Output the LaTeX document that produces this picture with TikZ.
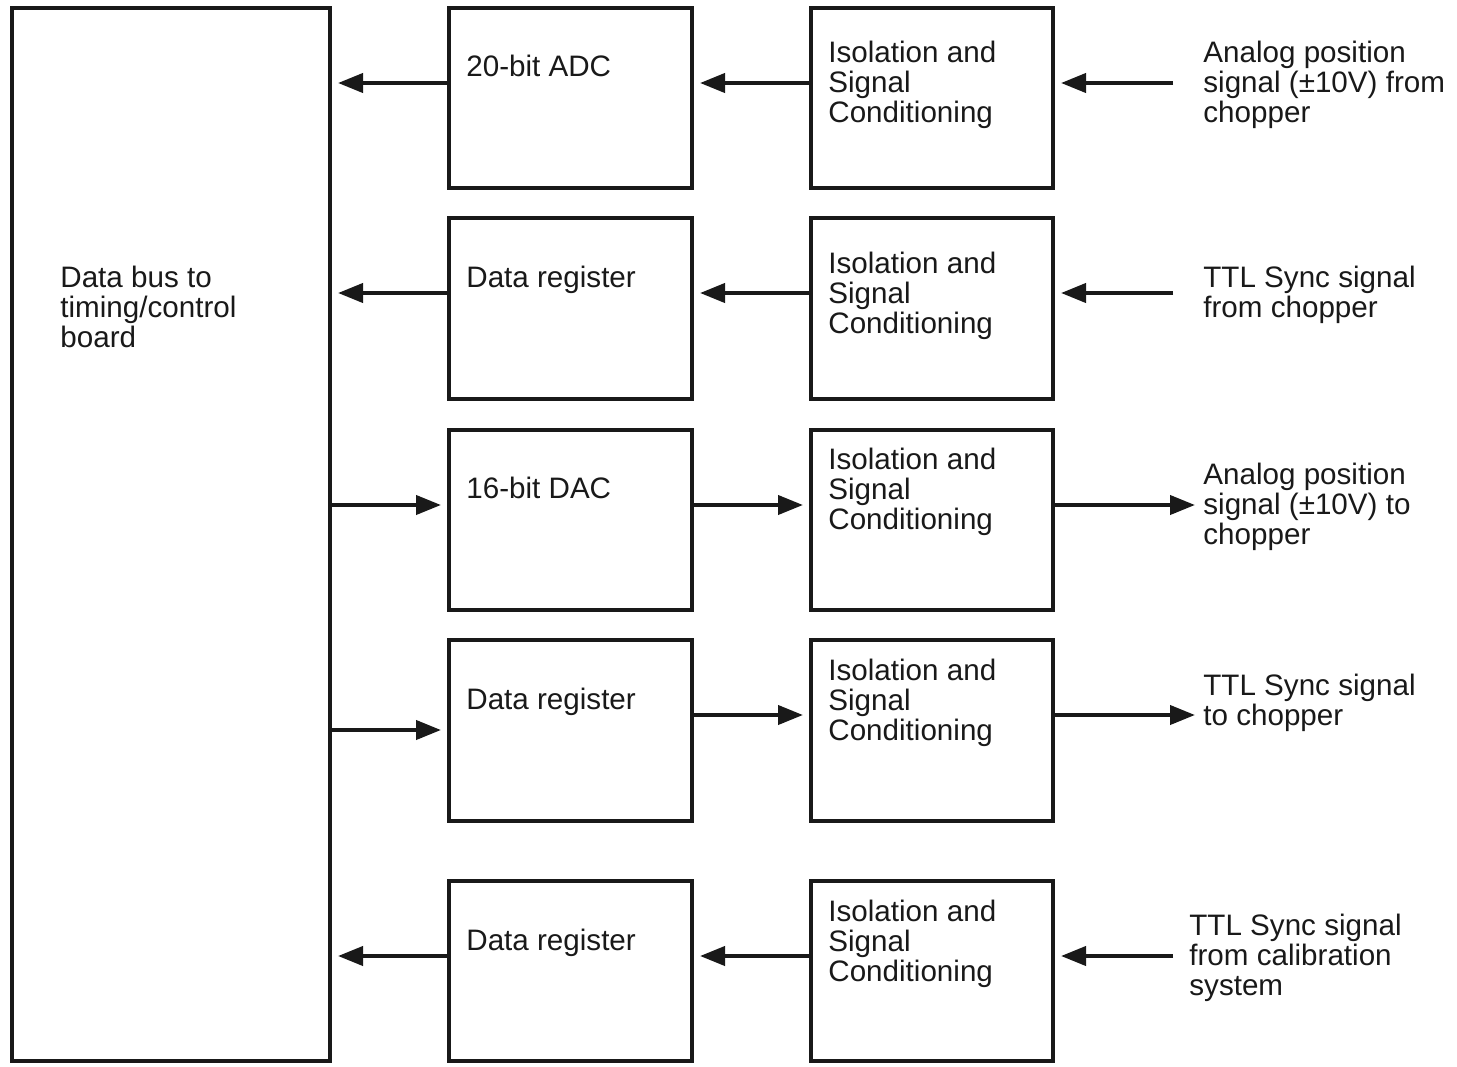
\documentclass[tikz,border=0pt]{standalone}
\usepackage{fontspec}
\setmainfont{Liberation Sans}
\usetikzlibrary{arrows.meta}
\newcommand{\ml}[1]{\begin{tabular}[t]{@{}l@{}}#1\end{tabular}}
\begin{document}
\begin{tikzpicture}[x=0.5pt,y=-0.5pt,
  blk/.style={draw=black!90, line width=2pt, inner sep=0pt, fill=white},
  colB/.style={blk, minimum width=121.5pt},
  colC/.style={blk, minimum width=121pt},
  txt/.style={anchor=base west, inner sep=0pt, font=\fontsize{14.8}{15}\selectfont, text=black!90},
  arr/.style={line width=2pt, draw=black!90, -{Triangle[length=12.5pt,width=9.5pt]}},
  gap/.style={shorten >=3pt}]
\useasboundingbox (0,0) rectangle (1457,1066);

% data bus board
\node[blk, minimum width=159pt, minimum height=526.5pt] (bus) at (171,534.5) {};
\node[txt] (bust) at (60,287) {\ml{Data bus to\\timing/control\\board}};

% converter / register column
\node[colB, minimum height=90pt]   (b1) at (570.5,98) {};
\node[colB, minimum height=90.5pt] (b2) at (570.5,308.5) {};
\node[colB, minimum height=90pt]   (b3) at (570.5,520) {};
\node[colB, minimum height=90.5pt] (b4) at (570.5,730.5) {};
\node[colB, minimum height=90pt]   (b5) at (570.5,971) {};
\node[txt] (b1t) at (466,76)  {20-bit ADC};
\node[txt] (b2t) at (466,287) {Data register};
\node[txt] (b3t) at (466,498) {16-bit DAC};
\node[txt] (b4t) at (466,709) {Data register};
\node[txt] (b5t) at (466,950) {Data register};

% isolation column
\node[colC, minimum height=90pt]   (c1) at (932,98) {};
\node[colC, minimum height=90.5pt] (c2) at (932,308.5) {};
\node[colC, minimum height=90pt]   (c3) at (932,520) {};
\node[colC, minimum height=90.5pt] (c4) at (932,730.5) {};
\node[colC, minimum height=90pt]   (c5) at (932,971) {};
\foreach \n/\y in {1/62,2/273,3/469,4/680,5/921}
  \node[txt] (c\n t) at (828,\y) {\ml{Isolation and\\Signal\\Conditioning}};

% external signals
\node[txt] (e1) at (1203,62)  {\ml{Analog position\\signal (±10V) from\\chopper}};
\node[txt] (e2) at (1203,287) {\ml{TTL Sync signal\\from chopper}};
\node[txt] (e3) at (1203,484) {\ml{Analog position\\signal (±10V) to\\chopper}};
\node[txt] (e4) at (1203,695) {\ml{TTL Sync signal\\to chopper}};
\node[txt] (e5) at (1189,935) {\ml{TTL Sync signal\\from calibration\\system}};

% signal levels
\coordinate (y1) at (0,83);
\coordinate (y2) at (0,293);
\coordinate (y3) at (0,505);
\coordinate (y4) at (0,715);
\coordinate (y5) at (0,956);
\coordinate (bus3) at (0,505);
\coordinate (bus4) at (0,730);
\coordinate (in1) at (1173,83);
\coordinate (in2) at (1173,293);
\coordinate (out3) at (1195,505);
\coordinate (out4) at (1195,715);
\coordinate (in5) at (1173,956);

% inputs: right to left
\foreach \n in {1,2,5}{
  \draw[arr,gap] (in\n) -- (c\n.east |- in\n);
  \draw[arr,gap] (c\n.west |- y\n) -- (b\n.east |- y\n);
  \draw[arr,gap] (b\n.west |- y\n) -- (bus.east |- y\n);
}
% outputs: left to right
\foreach \n in {3,4}{
  \draw[arr,gap] (bus.east |- bus\n) -- (b\n.west |- bus\n);
  \draw[arr,gap] (b\n.east |- y\n) -- (c\n.west |- y\n);
  \draw[arr] (c\n.east |- y\n) -- (out\n);
}
\end{tikzpicture}
\end{document}
